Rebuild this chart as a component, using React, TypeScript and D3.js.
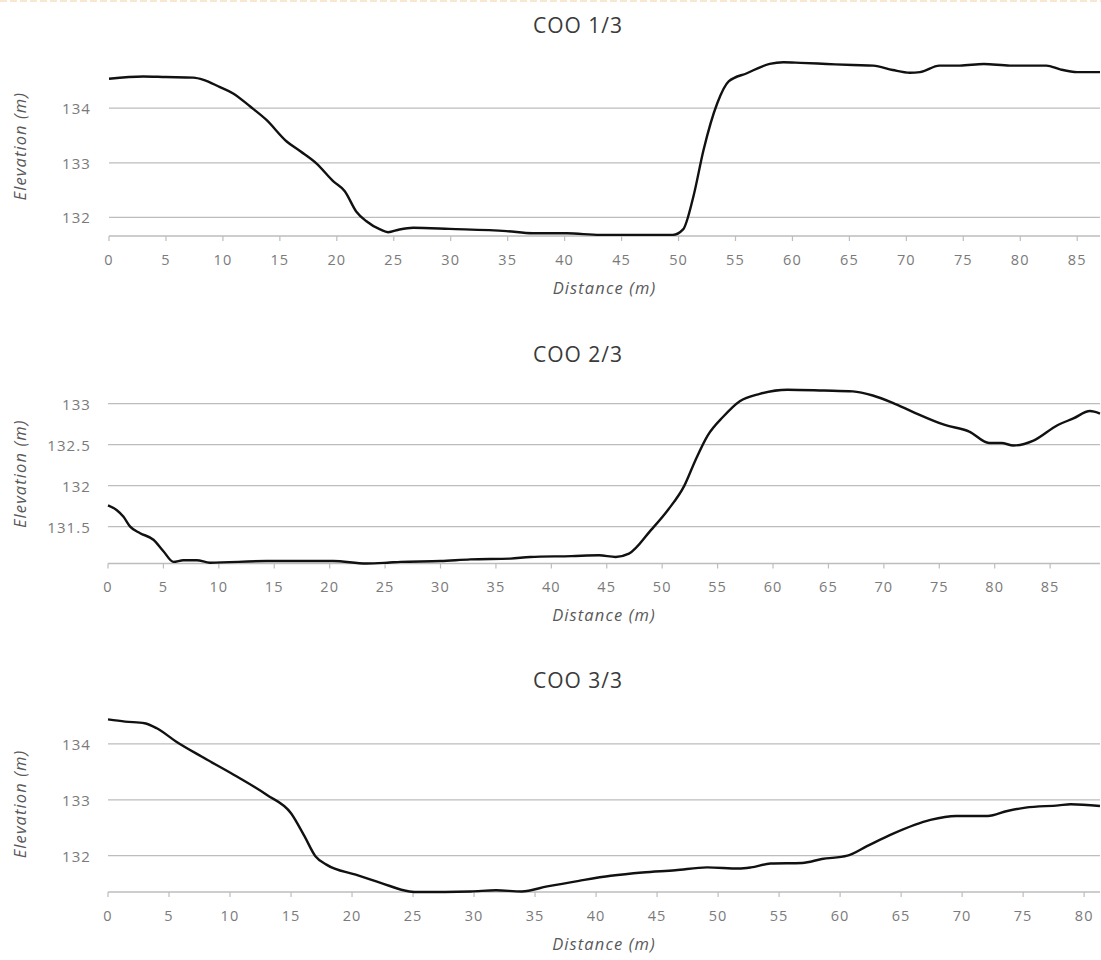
import React from "react";
import * as d3 from "d3";

// ---- Data ----
const titles = ["COO 1/3", "COO 2/3", "COO 3/3"];

const dist1 = [0, 3, 5, 7.4, 8.3, 9.7, 10.9, 12.4, 13.8, 15.6, 16.8, 18.2, 19.7, 20.7, 21.7, 22.6, 23.8, 24.5, 25.5, 26.7, 29.9, 34.9, 37.2, 40.2, 43.1, 48.3, 49.5, 50.4, 51.3, 52.2, 53.4, 54.4, 56.0, 58.0, 59.2, 60.7, 63.0, 65.3, 67.1, 68.8, 70.3, 71.2, 72.9, 74.7, 76.8, 79.1, 82.3, 83.5, 85.0, 87];
const elev1 = [134.54, 134.58, 134.57, 134.56, 134.52, 134.39, 134.27, 134.03, 133.79, 133.39, 133.21, 132.99, 132.66, 132.48, 132.11, 131.93, 131.78, 131.73, 131.78, 131.81, 131.79, 131.75, 131.71, 131.71, 131.68, 131.68, 131.68, 131.78, 132.38, 133.24, 134.09, 134.49, 134.64, 134.81, 134.84, 134.83, 134.81, 134.79, 134.78, 134.70, 134.65, 134.66, 134.78, 134.78, 134.81, 134.78, 134.78, 134.71, 134.66, 134.66];

const dist2 = [0, 0.8, 1.4, 2.0, 2.9, 4.1, 5.0, 5.9, 6.8, 8.0, 9.2, 14.3, 20.3, 23.3, 25.2, 26.4, 30, 32.7, 36.3, 38.1, 41.8, 44.3, 45.8, 47.0, 49.0, 50.5, 52.0, 53.0, 54.1, 55.5, 57.0, 58.8, 61.3, 64.6, 67.2, 69.0, 70.8, 72.6, 75.5, 77.7, 79.5, 80.6, 81.7, 83.5, 85.7, 87.1, 88.6, 89.5];
const elev2 = [131.76, 131.70, 131.62, 131.50, 131.42, 131.34, 131.20, 131.07, 131.09, 131.09, 131.06, 131.08, 131.08, 131.05, 131.06, 131.07, 131.08, 131.10, 131.11, 131.13, 131.14, 131.15, 131.13, 131.17, 131.46, 131.70, 132.0, 132.31, 132.61, 132.84, 133.03, 133.12, 133.17, 133.16, 133.15, 133.10, 133.01, 132.90, 132.74, 132.66, 132.52, 132.52, 132.49, 132.55, 132.74, 132.82, 132.91, 132.88];

const dist3 = [0, 1.4, 3.0, 4.0, 5.6, 7.7, 10.3, 13.0, 15.0, 16.1, 17.0, 17.9, 20.3, 22.4, 24.7, 25.5, 29.7, 31.8, 33.9, 36.0, 38.6, 41.2, 43.8, 46.5, 49.1, 51.7, 52.7, 54.3, 56.9, 58.5, 60.6, 62.2, 64.3, 67.4, 69.5, 72.1, 73.7, 75.2, 77.9, 78.9, 81.3];
const elev3 = [134.44, 134.40, 134.37, 134.28, 134.04, 133.77, 133.45, 133.09, 132.76, 132.35, 131.99, 131.84, 131.66, 131.51, 131.36, 131.35, 131.36, 131.38, 131.36, 131.45, 131.55, 131.64, 131.70, 131.74, 131.79, 131.77, 131.79, 131.86, 131.87, 131.94, 132.0, 132.17, 132.39, 132.64, 132.71, 132.71, 132.80, 132.86, 132.90, 132.92, 132.89];

const xMax = [87, 89.5, 81.3];
const yDomains = [[131.66, 134.95], [131.05, 133.24], [131.35, 134.5]];
const yTicks1 = [132, 133, 134];
const yTicks2 = [131.5, 132, 132.5, 133];
const yTicks3 = [132, 133, 134];
const xTicks1 = [0, 5, 10, 15, 20, 25, 30, 35, 40, 45, 50, 55, 60, 65, 70, 75, 80, 85];
const xTicks2 = [0, 5, 10, 15, 20, 25, 30, 35, 40, 45, 50, 55, 60, 65, 70, 75, 80, 85];
const xTicks3 = [0, 5, 10, 15, 20, 25, 30, 35, 40, 45, 50, 55, 60, 65, 70, 75, 80];
const xTitle = "Distance (m)";
const yTitle = "Elevation (m)";

// ---- Layout ----
const boxes = [
  { left: 109, right: 1100, top: 56.3, bottom: 236, titleY: 25 },
  { left: 108, right: 1100, top: 384, bottom: 563.5, titleY: 354 },
  { left: 108, right: 1100, top: 716, bottom: 892, titleY: 680 },
];

const FONT = "'Open Sans', 'Liberation Sans', sans-serif";
const GRID = "#bdbdbd";
const LABEL = "#7a7a7a";

function Panel({ i, dist, elev, yTicks, xTicks }: any) {
  const b = boxes[i];
  const x = d3.scaleLinear().domain([0, xMax[i]]).range([b.left, b.right]);
  const y = d3.scaleLinear().domain(yDomains[i]).range([b.bottom, b.top]);
  const pts = dist.map((d: number, k: number) => [d, elev[k]] as [number, number]);
  const line = d3
    .line<[number, number]>()
    .x((d) => x(d[0]))
    .y((d) => y(d[1]))
    .curve(d3.curveMonotoneX);
  const midY = (b.top + b.bottom) / 2;
  return (
    <g>
      <text x={578} y={b.titleY} textAnchor="middle" dominantBaseline="central" fontFamily={FONT} fontSize={21} fill="#3a3a3a" letterSpacing={1}>
        {titles[i]}
      </text>
      {yTicks.map((t: number) => (
        <g key={"y" + t}>
          <line x1={b.left} x2={b.right} y1={y(t)} y2={y(t)} stroke={GRID} strokeWidth={1.3} />
          <text x={91} y={y(t)} textAnchor="end" dominantBaseline="central" fontFamily={FONT} fontSize={15} fill={LABEL} letterSpacing={1.1}>
            {t}
          </text>
        </g>
      ))}
      <line x1={b.left} x2={b.right} y1={b.bottom} y2={b.bottom} stroke={GRID} strokeWidth={1.3} />
      {xTicks.map((t: number) => (
        <g key={"x" + t}>
          <line x1={x(t)} x2={x(t)} y1={b.bottom} y2={b.bottom + 5} stroke={GRID} strokeWidth={1.2} />
          <text x={x(t)} y={b.bottom + 23} textAnchor="middle" dominantBaseline="central" fontFamily={FONT} fontSize={14.5} fill={LABEL} letterSpacing={1.1}>
            {t}
          </text>
        </g>
      ))}
      <text x={(b.left + b.right) / 2} y={b.bottom + 51} textAnchor="middle" dominantBaseline="central" fontFamily={FONT} fontSize={16.5} fontStyle="italic" fill="#595959" letterSpacing={1.1}>
        {xTitle}
      </text>
      <text transform={`translate(19,${midY}) rotate(-90)`} textAnchor="middle" dominantBaseline="central" fontFamily={FONT} fontSize={16.5} fontStyle="italic" fill="#595959" letterSpacing={1.1}>
        {yTitle}
      </text>
      <path d={line(pts) || ""} fill="none" stroke="#111" strokeWidth={2.4} strokeLinejoin="round" />
    </g>
  );
}

export default function App() {
  return (
    <svg width={1101} height={960} style={{ position: "absolute", left: 0, top: 0, background: "#fff" }}>
      <rect width={1101} height={960} fill="#fff" />
      <line x1={0} x2={1101} y1={1} y2={1} stroke="#f0c48e" strokeWidth={2} strokeDasharray="7 3" opacity={0.4} />
      <Panel i={0} dist={dist1} elev={elev1} yTicks={yTicks1} xTicks={xTicks1} />
      <Panel i={1} dist={dist2} elev={elev2} yTicks={yTicks2} xTicks={xTicks2} />
      <Panel i={2} dist={dist3} elev={elev3} yTicks={yTicks3} xTicks={xTicks3} />
    </svg>
  );
}
